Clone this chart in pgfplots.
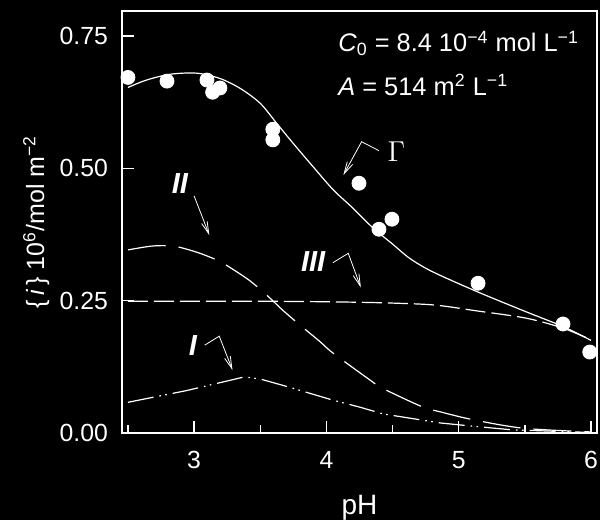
\documentclass[border=0pt]{standalone}
\usepackage{fontspec}
\setmainfont{Liberation Sans}
\usepackage{pgfplots}
\pgfplotsset{compat=1.18}
\usetikzlibrary{arrows.meta}

\begin{document}
\begin{tikzpicture}
\fill[black] (-61pt,-43.5pt) rectangle (239pt,216.5pt);
\useasboundingbox (-61pt,-43.5pt) rectangle (239pt,216.5pt);
\begin{axis}[
  scale only axis, width=237.5pt, height=211pt,
  xmin=2.455, xmax=6.045, ymin=0, ymax=0.7975,
  clip=false,
  axis line style={white, line width=0.75pt},
  xtick={3,4,5,6}, minor xtick={2.5,3.5,4.5,5.5},
  ytick={0,0.25,0.5,0.75},
  xtick pos=bottom, ytick pos=left, tick align=inside,
  major tick length=6.25pt, minor tick length=4pt,
  tick style={white, line width=0.75pt},
  /pgf/number format/assume math mode=true,
  ticklabel style={white, font=\fontsize{12.4}{14}\selectfont},
  yticklabel style={/pgf/number format/fixed, /pgf/number format/fixed zerofill,
    /pgf/number format/precision=2, xshift=-3.5pt},
  xticklabel style={yshift=-5.5pt},
  xlabel={pH},
  ylabel={\{\,\textit{i}\,\}\ 10\textsuperscript{6}/mol m\textsuperscript{−2}},
  xlabel style={at={(axis description cs:0.5,-0.194)}, anchor=base, white,
    font=\fontsize{14}{16}\selectfont},
  ylabel style={at={(axis description cs:-0.164,0.5)}, anchor=base, white,
    font=\fontsize{12.5}{15}\selectfont},
]
  % Gamma, total
  \addplot[white, line width=0.6pt, smooth] coordinates {
    (2.50,0.653) (2.64,0.667) (2.82,0.678) (3.02,0.680) (3.195,0.670)
    (3.35,0.651) (3.50,0.623) (3.625,0.585) (3.75,0.547) (3.90,0.503)
    (4.05,0.460) (4.20,0.425) (4.35,0.388) (4.50,0.357) (4.63,0.330)
    (4.80,0.305) (5.14,0.267) (5.50,0.230) (5.79,0.201) (6.00,0.175)
  };
  % II
  \addplot[white, line width=0.6pt, smooth, dash pattern=on 19pt off 6.5pt] coordinates {
    (2.50,0.346) (2.67,0.353) (2.79,0.354) (2.89,0.351) (3.04,0.340)
    (3.18,0.326) (3.27,0.313) (3.42,0.288) (3.56,0.258) (3.67,0.232)
    (3.80,0.204) (3.95,0.173) (4.05,0.151) (4.33,0.100) (4.42,0.085)
    (4.72,0.050) (4.86,0.040) (5.11,0.025) (5.49,0.009) (6.00,0.002)
  };
  % III
  \addplot[white, line width=0.6pt, smooth, dash pattern=on 10pt off 3pt] coordinates {
    (2.50,0.249) (3.00,0.249) (3.50,0.249) (4.00,0.248) (4.43,0.246)
    (4.81,0.242) (5.13,0.231) (5.51,0.217) (5.79,0.198) (6.00,0.176)
  };
  % I
  \addplot[white, line width=0.6pt,
    dash pattern=on 13pt off 3pt on 0.8pt off 2.2pt on 0.8pt off 3pt] coordinates {
    (2.50,0.058) (2.94,0.080) (3.38,0.106) (3.50,0.102) (3.70,0.088)
    (4.05,0.062) (4.25,0.049) (4.43,0.036) (4.86,0.019) (5.06,0.014)
    (5.40,0.006) (6.00,0.001)
  };
  % measured points
  \addplot[only marks, mark=*, mark size=3.5pt, mark options={fill=white, draw=white}]
    coordinates {
    (2.50,0.672) (2.795,0.665) (3.097,0.667) (3.14,0.644) (3.195,0.652)
    (3.595,0.574) (3.595,0.554) (4.246,0.472) (4.397,0.385) (4.495,0.404)
    (5.146,0.283) (5.788,0.206) (5.99,0.153)
  };

  \node[white, anchor=base west, inner sep=0pt, font=\fontsize{12.7}{15}\selectfont]
    at (axis cs:4.087,0.7205)
    {\textit{C}\textsubscript{0} = 8.4 10\textsuperscript{−4} mol L\textsuperscript{−1}};
  \node[white, anchor=base west, inner sep=0pt, font=\fontsize{12.7}{15}\selectfont]
    at (axis cs:4.087,0.6387)
    {\textit{A} = 514 m\textsuperscript{2} L\textsuperscript{−1}};

  \node[white, font=\fontsize{13.5}{16}\selectfont] at (axis cs:4.53,0.532) {$\Gamma$};
  \draw[white, line width=0.4pt, -{Straight Barb[length=6pt,width=3pt]}]
    (axis cs:4.397,0.5335) -- (axis cs:4.266,0.5505) -- (axis cs:4.128,0.4875);
  \node[white, font=\fontsize{14.5}{17}\selectfont\bfseries\itshape]
    at (axis cs:2.893,0.472) {II};
  \draw[white, line width=0.4pt, -{Straight Barb[length=6pt,width=3pt]}]
    (axis cs:3.0,0.448) -- (axis cs:3.115,0.374);
  \node[white, font=\fontsize{14.5}{17}\selectfont\bfseries\itshape]
    at (axis cs:3.90,0.324) {III};
  \draw[white, line width=0.4pt, -{Straight Barb[length=6pt,width=3pt]}]
    (axis cs:4.05,0.322) -- (axis cs:4.165,0.3396) -- (axis cs:4.26,0.275);
  \node[white, font=\fontsize{14.5}{17}\selectfont\bfseries\itshape]
    at (axis cs:2.99,0.166) {I};
  \draw[white, line width=0.4pt, -{Straight Barb[length=6pt,width=3pt]}]
    (axis cs:3.08,0.166) -- (axis cs:3.19,0.183) -- (axis cs:3.29,0.119);
\end{axis}
\end{tikzpicture}
\end{document}
